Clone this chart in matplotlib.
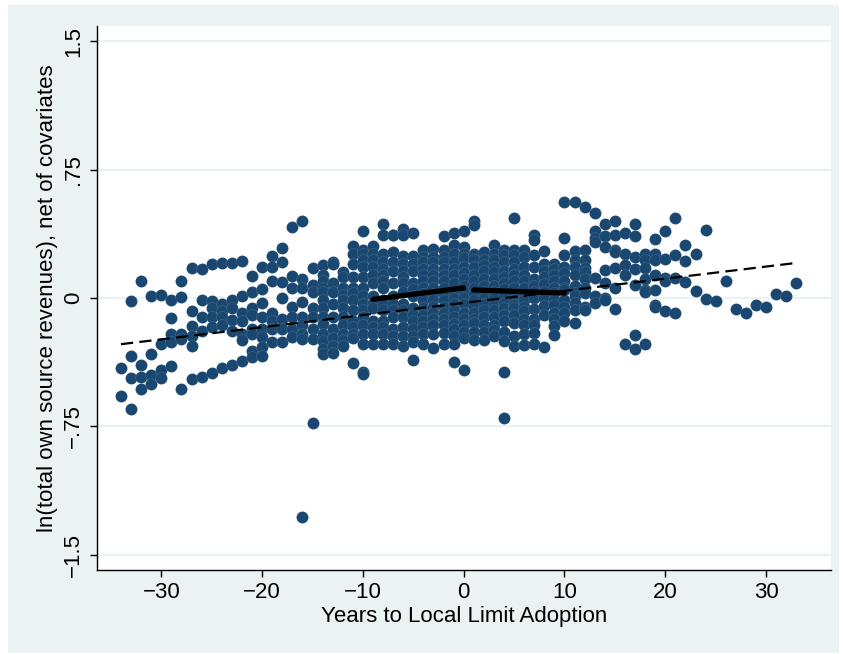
import matplotlib
matplotlib.use("Agg")
import matplotlib.pyplot as plt
from matplotlib.patches import Rectangle

# residualised log own-source revenue, by years to adoption
pre_far = {
    -34: [-0.41, -0.57],
    -33: [-0.015, -0.34, -0.47, -0.65],
    -32: [0.10, -0.39, -0.46, -0.53],
    -31: [0.01, -0.33, -0.45, -0.50],
    -30: [0.02, -0.27, -0.42, -0.465],
    -29: [-0.01, -0.115, -0.21, -0.26, -0.40],
    -28: [0.10, 0.005, -0.21, -0.24, -0.53],
    -27: [0.175, -0.075, -0.165, -0.22, -0.28, -0.475],
    -26: [0.17, -0.01, -0.11, -0.195, -0.46],
    -25: [0.20, -0.02, -0.06, -0.11, -0.17, -0.44],
    -24: [0.205, -0.035, -0.075, -0.11, -0.16, -0.41],
    -23: [0.205, -0.01, -0.06, -0.13, -0.195, -0.39],
    -22: [0.215, 0.01, -0.09, -0.135, -0.21, -0.245, -0.37],
    -21: [0.13, 0.035, -0.06, -0.10, -0.18, -0.21, -0.31, -0.345],
    -20: [0.18, 0.055, -0.03, -0.11, -0.18, -0.23, -0.285, -0.34],
    -19: [0.245, 0.18, 0.10, -0.085, -0.135, -0.18, -0.255],
    -18: [0.29, 0.21, 0.095, 0.0, -0.12, -0.18, -0.26],
    -17: [0.415, 0.13, 0.06, -0.05, -0.11, -0.18, -0.23],
    -16: [0.45, 0.11, 0.06, -0.025, -0.11, -0.16, -0.21, -0.24, -1.28],
    -15: [0.175, 0.075, 0.035, -0.06, -0.11, -0.18, -0.24, -0.73],
}

pre_near = {
    -14: [0.195, 0.134, 0.10, 0.061, 0.037, -0.012, -0.061, -0.11, -0.15, -0.208, -0.25, -0.30, -0.325],
    -13: [0.21, 0.20, 0.085, 0.037, -0.037, -0.11, -0.183, -0.232, -0.28, -0.32],
    -12: [0.15, 0.122, 0.061, 0.02, -0.012, -0.061, -0.11, -0.159, -0.208, -0.244, -0.28],
    -11: [0.306, 0.26, 0.196, 0.122, 0.061, 0.03, -0.012, -0.073, -0.134, -0.17, -0.208, -0.232, -0.38],
    -10: [0.394, 0.283, 0.257, 0.22, 0.183, 0.122, 0.061, 0.012, -0.037, -0.07, -0.11, -0.159, -0.208, -0.27, -0.43, -0.445],
    -9: [0.302, 0.257, 0.22, 0.183, 0.134, 0.086, 0.012, -0.03, -0.061, -0.134, -0.17, -0.208, -0.27],
    -8: [0.433, 0.37, 0.26, 0.213, 0.17, 0.134, 0.10, 0.061, -0.012, -0.04, -0.073, -0.134, -0.17, -0.208, -0.27],
    -7: [0.37, 0.367, 0.27, 0.213, 0.159, 0.086, 0.012, -0.037, -0.07, -0.11, -0.183, -0.22, -0.27],
    -6: [0.406, 0.367, 0.244, 0.20, 0.159, 0.12, 0.086, 0.037, -0.037, -0.07, -0.11, -0.171, -0.22, -0.281],
    -5: [0.38, 0.244, 0.20, 0.159, 0.086, 0.05, 0.012, -0.061, -0.10, -0.134, -0.183, -0.22, -0.257, -0.365],
    -4: [0.281, 0.24, 0.208, 0.17, 0.134, 0.10, 0.061, 0.025, -0.012, -0.061, -0.10, -0.134, -0.17, -0.208, -0.269],
    -3: [0.286, 0.24, 0.208, 0.17, 0.134, 0.10, 0.061, 0.025, -0.012, -0.05, -0.086, -0.12, -0.159, -0.208, -0.293],
    -2: [0.36, 0.281, 0.24, 0.208, 0.17, 0.134, 0.10, 0.061, 0.025, -0.012, -0.05, -0.086, -0.12, -0.159, -0.205, -0.27],
    -1: [0.38, 0.31, 0.257, 0.208, 0.17, 0.134, 0.086, 0.037, 0.0, -0.037, -0.07, -0.11, -0.15, -0.183, -0.22, -0.27, -0.377],
}

post_near = {
    0: [0.39, 0.30, 0.26, 0.232, 0.183, 0.145, 0.11, 0.07, 0.037, 0.0, -0.037, -0.086, -0.12, -0.159, -0.20, -0.232, -0.42],
    1: [0.449, 0.428, 0.257, 0.25, 0.22, 0.183, 0.134, 0.10, 0.061, 0.025, -0.012, -0.05, -0.086, -0.12, -0.147, -0.2, -0.248],
    2: [0.27, 0.22, 0.19, 0.159, 0.11, 0.07, 0.037, 0.0, -0.037, -0.07, -0.11, -0.159, -0.2, -0.244],
    3: [0.31, 0.257, 0.22, 0.183, 0.15, 0.11, 0.07, 0.037, 0.0, -0.037, -0.07, -0.11, -0.159, -0.186, -0.22],
    4: [0.28, 0.25, 0.208, 0.159, 0.12, 0.086, 0.05, 0.012, -0.03, -0.061, -0.10, -0.134, -0.2, -0.254, -0.435, -0.70],
    5: [0.468, 0.283, 0.25, 0.208, 0.17, 0.134, 0.10, 0.061, 0.025, -0.012, -0.04, -0.061, -0.1, -0.146, -0.22, -0.283],
    6: [0.283, 0.24, 0.183, 0.134, 0.10, 0.061, 0.02, -0.012, -0.05, -0.078, -0.122, -0.16, -0.208, -0.273],
    7: [0.37, 0.34, 0.25, 0.183, 0.11, 0.07, 0.037, 0.0, -0.064, -0.12, -0.16, -0.205, -0.268],
    8: [0.277, 0.20, 0.16, 0.122, 0.08, 0.037, 0.0, -0.049, -0.10, -0.287],
    9: [0.196, 0.171, 0.134, 0.10, 0.061, 0.03, -0.012, -0.04, -0.086, -0.12, -0.166, -0.215],
    10: [0.56, 0.35, 0.25, 0.183, 0.146, 0.10, 0.061, 0.049, -0.012, -0.05, -0.088, -0.134],
    11: [0.56, 0.273, 0.224, 0.18, 0.136, 0.068, 0.03, 0.01, -0.03, -0.07, -0.146],
    12: [0.53, 0.283, 0.224, 0.176, 0.15, 0.11, 0.06, 0.029, -0.05, -0.068],
}

post_far = {
    13: [0.494, 0.39, 0.35, 0.33, 0.117, 0.01, -0.03],
    14: [0.43, 0.36, 0.30, 0.166, 0.088, 0.0, -0.01],
    15: [0.449, 0.37, 0.283, 0.27, 0.176, 0.059, -0.064],
    16: [0.38, 0.259, 0.195, 0.136, -0.268],
    17: [0.43, 0.36, 0.24, 0.17, 0.078, -0.215, -0.30],
    18: [0.259, 0.22, 0.176, 0.11, 0.049, 0.037, -0.268],
    19: [0.345, 0.259, 0.22, 0.136, 0.049, -0.039, -0.05],
    20: [0.39, 0.228, 0.117, 0.097, -0.078],
    21: [0.468, 0.254, 0.117, -0.088],
    22: [0.312, 0.214, 0.091],
    23: [0.259, 0.039],
    24: [0.40, -0.006],
    25: [-0.02],
    26: [0.097],
    27: [-0.063],
    28: [-0.088],
    29: [-0.043],
    30: [-0.053],
    31: [0.023],
    32: [0.013],
    33: [0.088],
}

# linear fit over the full sample (dashed) and the pre/post segments (thick)
trend_x = [-34, 33]
trend_y = [-0.27, 0.205]
pre_fit_x = [-9, 0]
pre_fit_y = [-0.008, 0.059]
post_fit_x = [1, 10]
post_fit_y = [0.047, 0.029]

yticks = [-1.5, -0.75, 0, 0.75, 1.5]
ytick_labels = ["\u22121.5", "\u2212.75", "0", ".75", "1.5"]
xticks = [-30, -20, -10, 0, 10, 20, 30]
xtick_labels = ["\u221230", "\u221220", "\u221210", "0", "10", "20", "30"]

xs, ys = [], []
for group in (pre_far, pre_near, post_near, post_far):
    for yr, vals in group.items():
        xs += [yr] * len(vals)
        ys += vals

plt.rcParams["font.family"] = ["Liberation Sans", "DejaVu Sans"]

bg = "#EAF2F3"
navy = "#1A476F"

fig = plt.figure(figsize=(8.43, 6.54), dpi=100)
fig.patch.set_facecolor("white")
fig.add_artist(Rectangle((8 / 843, 1 / 654), 831 / 843, 648 / 654,
                         transform=fig.transFigure, facecolor=bg,
                         edgecolor="none", zorder=-5))

ax = fig.add_axes([96.8 / 843, 1 - 570 / 654, (830.6 - 96.8) / 843, (570 - 26) / 654])
ax.set_zorder(1)
ax.set_facecolor("white")
ax.set_axisbelow(True)

ax.scatter(xs, ys, s=74, color=navy, edgecolors=(1, 1, 1, 0.18), linewidths=0.4, zorder=2)
ax.plot(trend_x, trend_y, color="black", lw=1.6, dashes=(5.5, 2.8), zorder=3)
ax.plot(pre_fit_x, pre_fit_y, color="black", lw=3.8, solid_capstyle="round", zorder=4)
ax.plot(post_fit_x, post_fit_y, color="black", lw=3.8, solid_capstyle="round", zorder=4)

ax.set_xlim(-36.4, 36.4)
ax.set_ylim(-1.59, 1.59)
ax.set_xticks(xticks)
ax.set_xticklabels(xtick_labels, fontsize=16)
ax.set_yticks(yticks)
ax.set_yticklabels(ytick_labels, fontsize=16, rotation=90, va="center")
ax.yaxis.grid(True, color=bg, lw=1.6)
ax.tick_params(direction="out", length=5, width=1, pad=4)

for side in ("top", "right"):
    ax.spines[side].set_visible(False)
for side in ("left", "bottom"):
    ax.spines[side].set_linewidth(1)

ax.set_xlabel("Years to Local Limit Adoption", fontsize=16, labelpad=2)
ax.set_ylabel("ln(total own source revenues), net of covariates", fontsize=16, labelpad=4)

fig.savefig("out.png", dpi=100)
